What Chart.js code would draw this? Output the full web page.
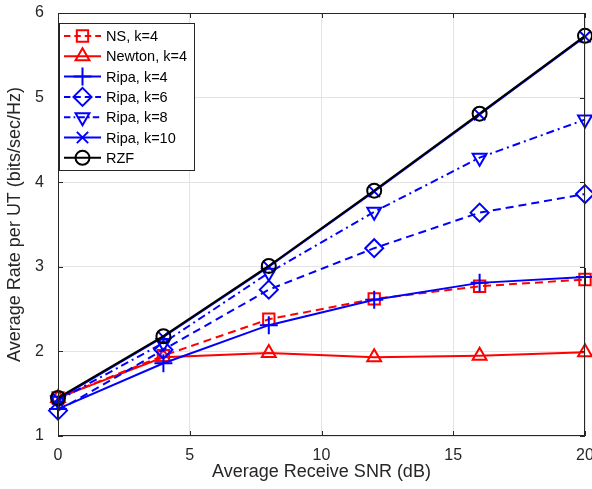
<!DOCTYPE html>
<html>
<head>
<meta charset="utf-8">
<script src="https://cdn.jsdelivr.net/npm/chart.js@4/dist/chart.umd.min.js"></script>
<style>
  html, body { margin: 0; padding: 0; background: #fff; overflow: hidden; }
  #wrap { width: 600px; height: 489px; }
</style>
</head>
<body>
<div id="wrap"><canvas id="c"></canvas></div>
<script>
// x positions (SNR in dB)
const snr = [0, 4, 8, 12, 16, 20];

// series values (bits/sec/Hz)
const nsK4     = [1.45, 1.95, 2.38, 2.62, 2.77, 2.85];
const newtonK4 = [1.45, 1.93, 1.98, 1.93, 1.95, 1.99];
const ripaK4   = [1.32, 1.86, 2.31, 2.61, 2.81, 2.88];
const ripaK6   = [1.30, 2.02, 2.73, 3.22, 3.64, 3.86];
const ripaK8   = [1.42, 2.10, 2.93, 3.65, 4.29, 4.74];
const ripaK10  = [1.44, 2.17, 3.00, 3.89, 4.80, 5.72];
const rzf      = [1.45, 2.18, 3.01, 3.90, 4.81, 5.73];

const xTicks = [0, 5, 10, 15, 20];
const yTicks = [1, 2, 3, 4, 5, 6];

const RED = "#ff0000", BLUE = "#0000ff", BLACK = "#000000";
const AXIS = "#262626";
const FONT = "'Liberation Sans', Arial, sans-serif";

const pts = (ys) => snr.map((x, i) => ({ x, y: ys[i] }));

// label, values, color, dash, marker, rotation, radius
const SERIES = [
  ["NS, k=4",     nsK4,     RED,   [8, 5],       "rect",     0,   8],
  ["Newton, k=4", newtonK4, RED,   [],           "triangle", 0,   8],
  ["Ripa, k=4",   ripaK4,   BLUE,  [],           "cross",    0,   9],
  ["Ripa, k=6",   ripaK6,   BLUE,  [8, 5],       "rectRot",  0,   9],
  ["Ripa, k=8",   ripaK8,   BLUE,  [8, 4, 2, 4], "triangle", 180, 8],
  ["Ripa, k=10",  ripaK10,  BLUE,  [],           "crossRot", 0,   8],
  ["RZF",         rzf,      BLACK, [],           "circle",   0,   7],
];

const datasets = SERIES.map(([label, ys, color, dash, style, rot, r], i) => ({
  label,
  data: pts(ys),
  borderColor: color,
  borderWidth: 2,
  borderDash: dash,
  pointStyle: style,
  pointRotation: rot,
  pointRadius: r,
  pointBorderWidth: 2,
  pointBorderColor: color,
  pointBackgroundColor: "rgba(0,0,0,0)",
  tension: 0,
  clip: false,
  order: SERIES.length - i, // later series on top, like MATLAB
}));

// box, inward ticks and legend inside the axes
const matlabBox = {
  id: "matlabBox",
  afterDraw(chart) {
    const { ctx, chartArea: a, scales } = chart;
    ctx.save();
    ctx.strokeStyle = AXIS;
    ctx.lineWidth = 1;
    ctx.strokeRect(a.left + 0.5, a.top + 0.5, a.right - a.left - 1, a.bottom - a.top - 1);
    ctx.beginPath();
    xTicks.forEach((t) => {
      const px = Math.round(scales.x.getPixelForValue(t)) + 0.5;
      ctx.moveTo(px, a.bottom); ctx.lineTo(px, a.bottom - 5);
      ctx.moveTo(px, a.top); ctx.lineTo(px, a.top + 5);
    });
    yTicks.forEach((t) => {
      const py = Math.round(scales.y.getPixelForValue(t)) + 0.5;
      ctx.moveTo(a.left, py); ctx.lineTo(a.left + 5, py);
      ctx.moveTo(a.right, py); ctx.lineTo(a.right - 5, py);
    });
    ctx.stroke();

    // legend
    const lx = a.left + 1, ly = 23, lw = 135, lh = 147;
    ctx.fillStyle = "#fff";
    ctx.fillRect(lx, ly, lw, lh);
    ctx.strokeRect(lx + 0.5, ly + 0.5, lw, lh);
    ctx.font = "14.5px " + FONT;
    ctx.textBaseline = "middle";
    SERIES.forEach(([label, , color, dash, style, rot, r], i) => {
      const y = 36 + i * 20.3;
      ctx.strokeStyle = color;
      ctx.lineWidth = 2;
      ctx.setLineDash(dash.map((d) => d * 0.8));
      ctx.beginPath();
      ctx.moveTo(64, y); ctx.lineTo(101, y);
      ctx.stroke();
      ctx.setLineDash([]);
      ctx.fillStyle = "rgba(0,0,0,0)";
      Chart.helpers.drawPoint(ctx, { pointStyle: style, rotation: rot, radius: r, borderWidth: 2 }, 82.5, y);
      ctx.fillStyle = "#000";
      ctx.fillText(label, 106, y + 1);
    });
    ctx.restore();
  },
};

const hiddenTicks = { color: "#e3e3e3", drawTicks: true, tickColor: "rgba(0,0,0,0)" };

new Chart(document.getElementById("c"), {
  type: "line",
  data: { datasets },
  options: {
    responsive: true,
    maintainAspectRatio: false,
    animation: false,
    layout: { padding: { top: 13, right: 15, left: 0, bottom: 0 } },
    scales: {
      x: {
        type: "linear",
        min: 0, max: 20,
        afterBuildTicks: (s) => { s.ticks = xTicks.map((v) => ({ value: v })); },
        afterFit: (s) => { s.height = 53; },
        grid: { ...hiddenTicks, tickLength: 10 },
        border: { display: false },
        ticks: { color: AXIS, font: { family: FONT, size: 16 }, padding: 0, maxRotation: 0 },
        title: { display: true, text: "Average Receive SNR (dB)", color: AXIS, font: { family: FONT, size: 18 }, padding: { top: 2, bottom: 6 } },
      },
      y: {
        type: "linear",
        min: 1, max: 6,
        afterBuildTicks: (s) => { s.ticks = yTicks.map((v) => ({ value: v })); },
        afterFit: (s) => { s.width = 58; },
        grid: { ...hiddenTicks, tickLength: 14 },
        border: { display: false },
        ticks: { color: AXIS, font: { family: FONT, size: 16 }, padding: 0 },
        title: { display: true, text: "Average Rate per UT (bits/sec/Hz)", color: AXIS, font: { family: FONT, size: 18 }, padding: { top: 4, bottom: 4 } },
      },
    },
    plugins: {
      legend: { display: false },
      tooltip: { enabled: false },
    },
  },
  plugins: [matlabBox],
});
</script>
</body>
</html>
